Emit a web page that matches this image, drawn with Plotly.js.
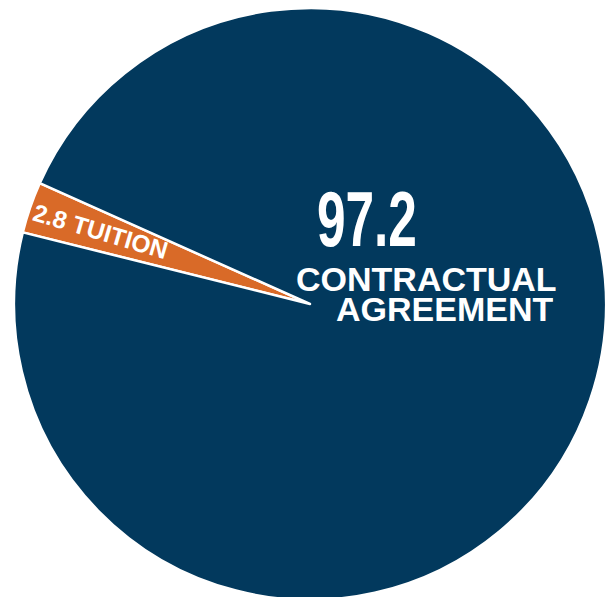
<!DOCTYPE html>
<html>
<head>
<meta charset="utf-8">
<script src="https://cdn.plot.ly/plotly-3.0.1.min.js"></script>
<style>
html,body{margin:0;padding:0;overflow:hidden;background:#fff;}
#chart{width:606px;height:600px;}
</style>
</head>
<body>
<div id="chart"></div>
<script>
const labels = ["TUITION", "CONTRACTUAL AGREEMENT"];
const values = [2.8, 97.2];
const sliceColors = ["#d96a28", "#02395d"];
const bigLabelLines = ["CONTRACTUAL", "AGREEMENT"];

const trace = {
  type: "pie",
  labels: labels,
  values: values,
  sort: false,
  direction: "counterclockwise",
  rotation: -76,
  textinfo: "none",
  hoverinfo: "label+value",
  marker: {colors: sliceColors, line: {color: "#ffffff", width: 2.5}},
  showlegend: false
};

const labelFont = "Liberation Sans, Arial, sans-serif";

const layout = {
  width: 606,
  height: 600,
  margin: {l: 14, r: 0, t: 8, b: 0},
  paper_bgcolor: "#ffffff",
  showlegend: false,
  annotations: [
    {
      text: "<b>" + values[1].toFixed(1) + "</b>",
      xref: "paper", yref: "paper", x: 0.596, y: 0.6436,
      xanchor: "center", yanchor: "middle", showarrow: false,
      font: {family: labelFont, size: 78, color: "#ffffff"}
    },
    {
      text: "<b>" + bigLabelLines[0] + "</b>",
      xref: "paper", yref: "paper", x: 0.9206, y: 0.5439,
      xanchor: "right", yanchor: "middle", showarrow: false,
      height: 27, valign: "middle",
      font: {family: labelFont, size: 34, color: "#ffffff"}
    },
    {
      text: "<b>" + bigLabelLines[1] + "</b>",
      xref: "paper", yref: "paper", x: 0.9139, y: 0.4932,
      xanchor: "right", yanchor: "middle", showarrow: false,
      height: 27, valign: "middle",
      font: {family: labelFont, size: 34, color: "#ffffff"}
    },
    {
      text: "<b>" + values[0].toFixed(1) + " " + labels[0] + "</b>",
      xref: "paper", yref: "paper", x: 0.146, y: 0.622,
      xanchor: "center", yanchor: "middle", textangle: 16.5, showarrow: false,
      font: {family: labelFont, size: 24.5, color: "#ffffff"}
    }
  ]
};

Plotly.newPlot("chart", [trace], layout, {displayModeBar: false, staticPlot: true}).then(function () {
  // condense the big number (reference uses a narrow bold face)
  const t = document.querySelectorAll("#chart .annotation-text")[0];
  if (t) {
    t.setAttribute("textLength", "100");
    t.setAttribute("lengthAdjust", "spacingAndGlyphs");
  }
});
</script>
</body>
</html>
